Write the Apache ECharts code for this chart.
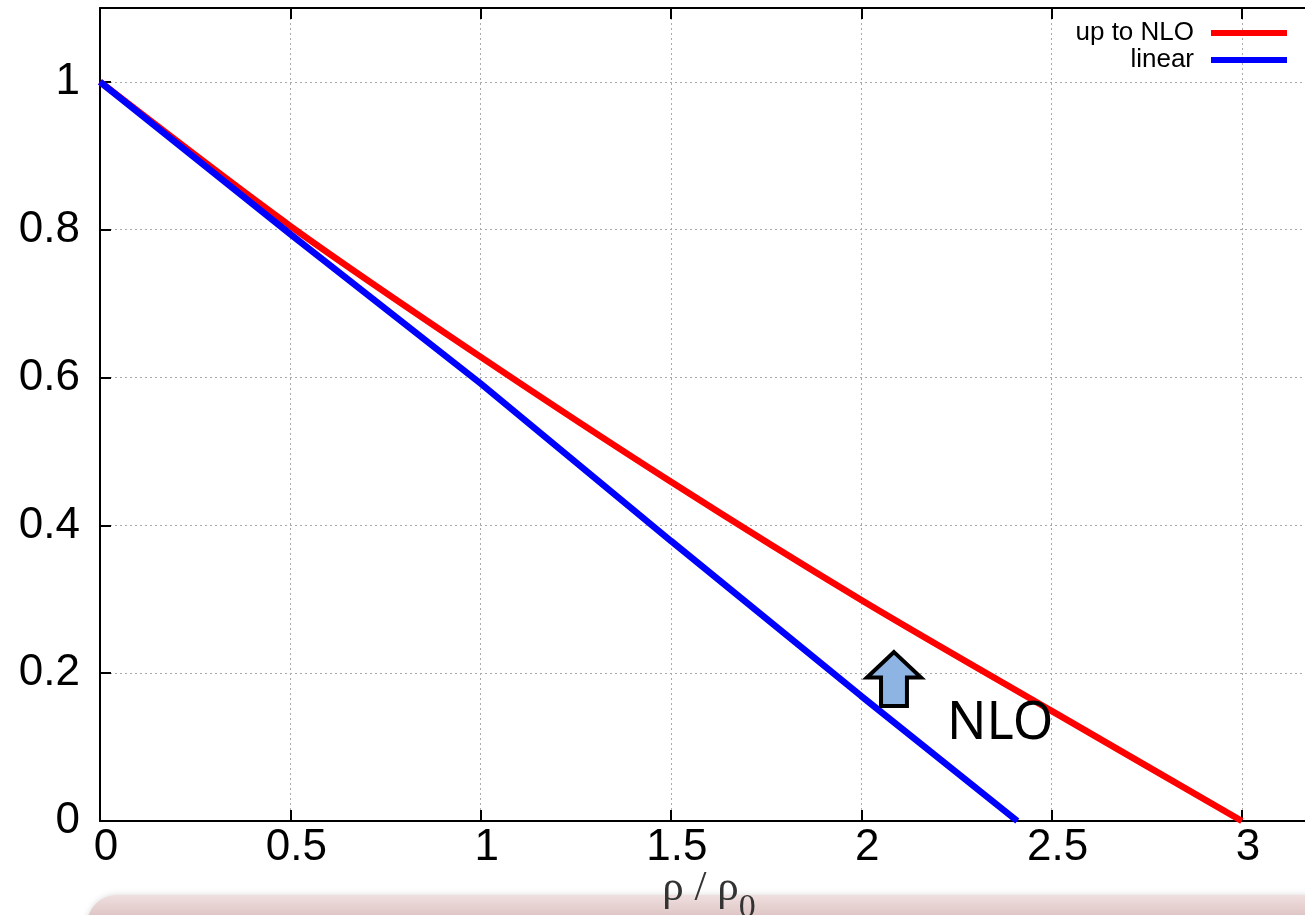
<!DOCTYPE html>
<html>
<head>
<meta charset="utf-8">
<script src="https://cdn.jsdelivr.net/npm/echarts@6/dist/echarts.min.js"></script>
<style>
html,body{margin:0;padding:0;background:#fff;}
#chart{width:1305px;height:915px;}
</style>
</head>
<body>
<div id="chart"></div>
<script>
// ---- data ----
var seriesNames = ['up to NLO', 'linear'];
var xNLO = [0, 0.5, 1, 1.5, 2, 2.5, 3.0];
var yNLO = [1, 0.805, 0.628, 0.459, 0.299, 0.149, 0];
var xLinear = [0, 0.5, 1, 1.5, 2, 2.41];
var yLinear = [1, 0.794, 0.592, 0.379, 0.169, 0];
var arrowAt = [2.086, 0.192];
var nloLabelAt = [2.365, 0.131];
var nloLabel = 'NLO';

function pairs(xs, ys) { return xs.map(function (x, i) { return [x, ys[i]]; }); }

var chart = echarts.init(document.getElementById('chart'), null, {renderer: 'canvas'});
var gridLine = {show: true, lineStyle: {color: '#aaaaaa', width: 1, type: [2, 3]}};
var fmt = function (v) { return String(Math.round(v * 10) / 10); };

var option = {
  animation: false,
  backgroundColor: '#ffffff',
  grid: {left: 100, top: 8, width: 1218, height: 813, containLabel: false, outerBoundsMode: 'none'},
  legend: {
    orient: 'vertical', right: 13, top: 15, align: 'right',
    itemWidth: 76, itemHeight: 6, itemGap: 1,
    textStyle: {fontFamily: 'Liberation Sans', fontSize: 26, color: '#000', padding: [0, 12, 0, 0]},
    data: [{name: seriesNames[0], icon: 'rect'}, {name: seriesNames[1], icon: 'rect'}]
  },
  xAxis: [{
    type: 'value', position: 'bottom', min: 0, max: 3.2, interval: 0.5,
    axisLine: {show: true, onZero: false, lineStyle: {color: '#000', width: 2}},
    axisTick: {show: true, inside: true, length: 11, lineStyle: {color: '#000', width: 2}},
    axisLabel: {show: true, margin: 5, fontFamily: 'Liberation Sans', fontSize: 44, color: '#000',
      padding: [0, 0, 0, 12], showMaxLabel: false, formatter: fmt},
    splitLine: gridLine,
    name: '{r|ρ / ρ}{s|0}', nameLocation: 'middle', nameGap: 32, nameMoveOverlap: false,
    nameTextStyle: {
      rich: {
        r: {fontFamily: 'Liberation Serif', fontSize: 43, color: '#333'},
        s: {fontFamily: 'Liberation Serif', fontSize: 34, color: '#333', padding: [38, 0, 0, 0]}
      }
    }
  }, {
    type: 'value', position: 'top', min: 0, max: 3.2, interval: 0.5,
    axisLine: {show: true, onZero: false, lineStyle: {color: '#000', width: 2}},
    axisTick: {show: true, inside: true, length: 11, lineStyle: {color: '#000', width: 2}},
    axisLabel: {show: false}, splitLine: {show: false}
  }],
  yAxis: [{
    type: 'value', min: 0, max: 1.1, interval: 0.2,
    axisLine: {show: true, onZero: false, lineStyle: {color: '#000', width: 2}},
    axisTick: {show: true, inside: true, length: 11, lineStyle: {color: '#000', width: 2}},
    axisLabel: {show: true, margin: 20, fontFamily: 'Liberation Sans', fontSize: 44, color: '#000',
      showMaxLabel: false, formatter: fmt},
    splitLine: gridLine
  }],
  series: [{
    name: seriesNames[0], type: 'line', data: pairs(xNLO, yNLO), showSymbol: false, symbol: 'none',
    smooth: 0.3,
    lineStyle: {color: '#ff0000', width: 6.5}, itemStyle: {color: '#ff0000'}, clip: true, z: 3
  }, {
    name: seriesNames[1], type: 'line', data: pairs(xLinear, yLinear), showSymbol: false, symbol: 'none',
    lineStyle: {color: '#0000ff', width: 6.5}, itemStyle: {color: '#0000ff'}, clip: true, z: 4,
    markPoint: {
      silent: true, animation: false,
      data: [{
        coord: arrowAt,
        symbol: 'path://M50,0 L100,47 L74,47 L74,100 L26,100 L26,47 L0,47 Z',
        symbolSize: [54, 54],
        itemStyle: {color: '#8db4e2', borderColor: '#000', borderWidth: 4},
        label: {show: false}
      }, {
        coord: nloLabelAt, symbol: 'circle', symbolSize: 0,
        label: {show: true, position: 'inside', formatter: nloLabel,
          fontFamily: 'Noto Sans', fontSize: 52, color: '#000'}
      }]
    }
  }],
  graphic: [{
    type: 'rect', z: -10, silent: true,
    shape: {x: 87, y: 895, width: 1260, height: 80, r: 30},
    style: {
      fill: new echarts.graphic.LinearGradient(0, 0, 0, 1, [
        {offset: 0, color: '#f0dfdf'}, {offset: 0.25, color: '#dfc6c6'}, {offset: 1, color: '#d8bcbc'}
      ]),
      shadowBlur: 6, shadowColor: 'rgba(0,0,0,0.15)'
    }
  }]
};
chart.setOption(option);
</script>
</body>
</html>
